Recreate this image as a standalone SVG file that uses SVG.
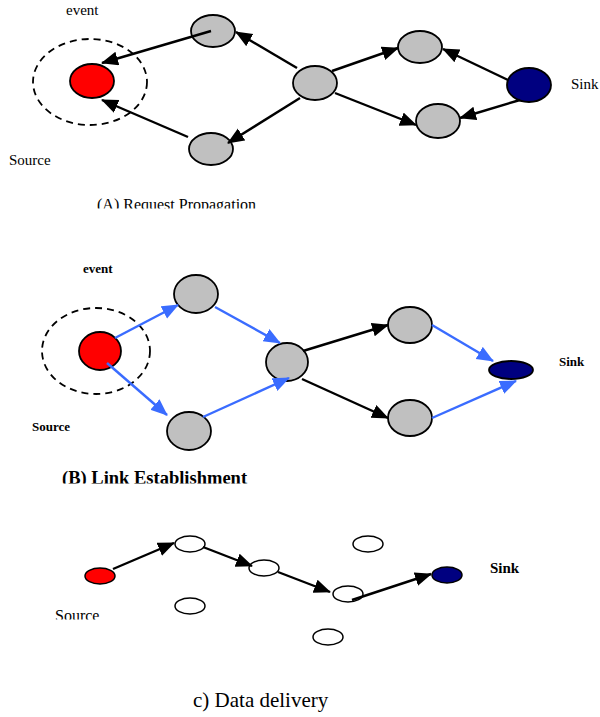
<svg xmlns="http://www.w3.org/2000/svg" width="600" height="717" viewBox="0 0 600 717">
<style>
.t{font-family:'Liberation Serif','Times New Roman','DejaVu Serif',serif;fill:#000}
.b{font-weight:bold}
.node{stroke:#000;stroke-width:1.8}
.g{fill:#c0c0c0}
.r{fill:#ff0000}
.k{fill:#000080}
.w{fill:#fff}
.sm{stroke-width:1.5}
.dash{fill:none;stroke:#000;stroke-width:1.8;stroke-dasharray:7,5}
.e{fill:none;stroke:#000;stroke-width:2.4}
.eb{fill:none;stroke:#3a6cff;stroke-width:2.4}
</style>
<defs>
<marker id="ak" markerUnits="userSpaceOnUse" markerWidth="20" markerHeight="16" refX="16" refY="7" orient="auto"><path d="M0,0 L17,7 L0,14 z" fill="#000"/></marker>
<marker id="ab" markerUnits="userSpaceOnUse" markerWidth="20" markerHeight="16" refX="16" refY="7" orient="auto"><path d="M0,0 L17,7 L0,14 z" fill="#3a6cff"/></marker>
<clipPath id="cA"><rect x="0" y="180" width="600" height="28.5"/></clipPath>
<clipPath id="cB"><rect x="0" y="455" width="600" height="28.5"/></clipPath>
<clipPath id="cC"><rect x="0" y="600" width="600" height="19.5"/></clipPath>
</defs>

<!-- (A) Request Propagation -->
<g id="a_region"><ellipse class="dash" cx="90" cy="82" rx="57" ry="43"/></g>
<g id="a_source"><ellipse class="node r" cx="92" cy="81" rx="22" ry="17"/></g>
<g id="a_n1"><ellipse class="node g" cx="213" cy="31" rx="22" ry="16"/></g>
<g id="a_n2"><ellipse class="node g" cx="211" cy="149" rx="22" ry="16"/></g>
<g id="a_n3"><ellipse class="node g" cx="315" cy="83" rx="22" ry="17"/></g>
<g id="a_n4"><ellipse class="node g" cx="420" cy="47" rx="22" ry="16"/></g>
<g id="a_n5"><ellipse class="node g" cx="438" cy="121" rx="22" ry="17"/></g>
<g id="a_sink"><ellipse class="node k" cx="529" cy="85" rx="22" ry="17"/></g>

<!-- (B) Link Establishment -->
<g id="b_region"><ellipse class="dash" cx="96" cy="351" rx="54" ry="43"/></g>
<g id="b_source"><ellipse class="node r" cx="100" cy="351" rx="21" ry="19"/></g>
<g id="b_n1"><ellipse class="node g" cx="196" cy="294" rx="22" ry="19"/></g>
<g id="b_n2"><ellipse class="node g" cx="189" cy="431" rx="22" ry="19"/></g>
<g id="b_n3"><ellipse class="node g" cx="287" cy="362" rx="21" ry="19"/></g>
<g id="b_n4"><ellipse class="node g" cx="410" cy="325" rx="22" ry="18"/></g>
<g id="b_n5"><ellipse class="node g" cx="410" cy="418" rx="22" ry="18"/></g>
<g id="b_sink"><ellipse class="node k" cx="511" cy="370" rx="22" ry="9"/></g>

<!-- (C) Data delivery -->
<g id="c_source"><ellipse class="node sm r" cx="100" cy="576" rx="15" ry="8"/></g>
<g id="c_n1"><ellipse class="node sm w" cx="190" cy="544" rx="15" ry="8"/></g>
<g id="c_n2"><ellipse class="node sm w" cx="264" cy="568" rx="15" ry="8"/></g>
<g id="c_n3"><ellipse class="node sm w" cx="348" cy="594" rx="15" ry="8"/></g>
<g id="c_n4"><ellipse class="node sm w" cx="190" cy="606" rx="15" ry="8"/></g>
<g id="c_n5"><ellipse class="node sm w" cx="368" cy="544" rx="15" ry="8"/></g>
<g id="c_n6"><ellipse class="node sm w" cx="328" cy="637" rx="15" ry="8"/></g>
<g id="c_sink"><ellipse class="node sm k" cx="447" cy="575" rx="15" ry="8"/></g>

<g id="connectors">
<line class="e" x1="211" y1="31" x2="102" y2="63" marker-end="url(#ak)"/>
<line class="e" x1="188" y1="137" x2="102" y2="100" marker-end="url(#ak)"/>
<line class="e" x1="297" y1="68" x2="236" y2="32" marker-end="url(#ak)"/>
<line class="e" x1="300" y1="98" x2="228" y2="143" marker-end="url(#ak)"/>
<line class="e" x1="332" y1="71" x2="398" y2="48" marker-end="url(#ak)"/>
<line class="e" x1="335" y1="93" x2="416" y2="125" marker-end="url(#ak)"/>
<line class="e" x1="508" y1="80" x2="443" y2="49" marker-end="url(#ak)"/>
<line class="e" x1="520" y1="100" x2="460" y2="118" marker-end="url(#ak)"/>

<line class="eb" x1="115" y1="338" x2="178" y2="305" marker-end="url(#ab)"/>
<line class="eb" x1="107" y1="363" x2="167" y2="415" marker-end="url(#ab)"/>
<line class="eb" x1="215" y1="307" x2="280" y2="343" marker-end="url(#ab)"/>
<line class="eb" x1="203" y1="417" x2="289" y2="378" marker-end="url(#ab)"/>
<line class="e" x1="303" y1="351" x2="388" y2="325" marker-end="url(#ak)"/>
<line class="e" x1="302" y1="379" x2="388" y2="418" marker-end="url(#ak)"/>
<line class="eb" x1="432" y1="325" x2="493" y2="361" marker-end="url(#ab)"/>
<line class="eb" x1="432" y1="418" x2="516" y2="381" marker-end="url(#ab)"/>

<line class="e" x1="113" y1="569" x2="174" y2="543" marker-end="url(#ak)"/>
<line class="e" x1="203" y1="547" x2="252" y2="566" marker-end="url(#ak)"/>
<line class="e" x1="278" y1="572" x2="330" y2="592" marker-end="url(#ak)"/>
<line class="e" x1="352" y1="600" x2="431" y2="574" marker-end="url(#ak)"/>
</g>

<g id="labels" font-family="'Liberation Serif','Times New Roman','DejaVu Serif',serif">
<text class="t" x="66" y="15" font-size="15">event</text>
<text class="t" x="9" y="165" font-size="15">Source</text>
<text class="t" x="571" y="89" font-size="15">Sink</text>
<text class="t" x="97" y="210" font-size="16" clip-path="url(#cA)">(A) Request Propagation</text>

<text class="t b" x="83" y="273" font-size="13">event</text>
<text class="t b" x="32" y="431" font-size="13">Source</text>
<text class="t b" x="559" y="366" font-size="13">Sink</text>
<text class="t b" x="62" y="484" font-size="18.5" clip-path="url(#cB)">(B) Link Establishment</text>

<text class="t b" x="490" y="573" font-size="15">Sink</text>
<text class="t" x="55" y="621" font-size="16" clip-path="url(#cC)">Source</text>
<text class="t" x="193" y="707" font-size="21">c) Data delivery</text>
</g>
</svg>
